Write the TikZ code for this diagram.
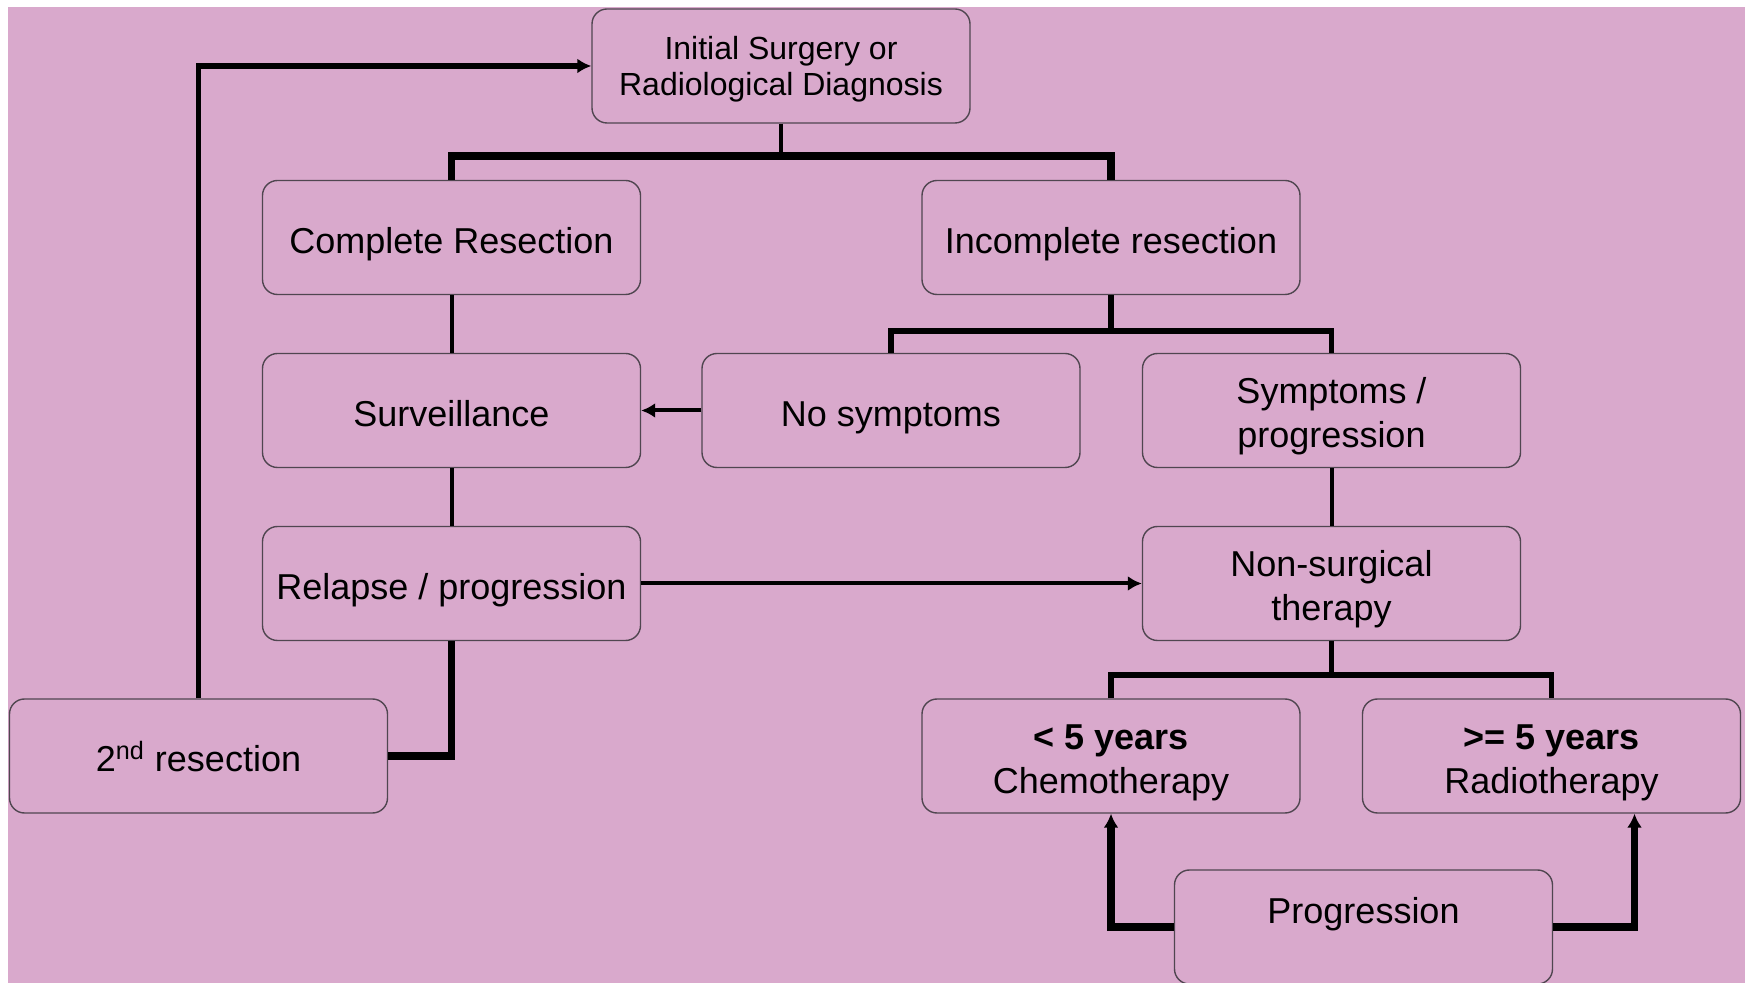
\documentclass[tikz,border=0pt]{standalone}
\usepackage{fontspec}
\setmainfont{Liberation Sans}
\usetikzlibrary{arrows.meta}

\definecolor{panel}{RGB}{217,169,204}
\definecolor{rim}{RGB}{80,70,80}

\begin{document}
\begin{tikzpicture}[x=0.5pt,y=-0.5pt,
  stepbox/.style={draw=rim, line width=0.7pt, fill=panel, rounded corners=7.5pt,
    minimum width=189pt, minimum height=57pt, inner sep=0pt, align=center,
    font=\fontsize{18}{22}\selectfont, text height=19.4pt, text depth=3.8pt},
  twoline/.style={text height=41pt, text depth=3.8pt},
  topbox/.style={stepbox, font=\fontsize{16}{18}\selectfont,
    text height=33pt, text depth=3.4pt},
  lowtext/.style={text height=17pt, text depth=21pt},
  wthin/.style={line width=2pt},
  wmid/.style={line width=2.6pt},
  wthick/.style={line width=3.6pt},
  tip/.style={-{Latex[length=7pt,width=7.5pt]}}
]
% page and coloured panel
\useasboundingbox (0,0) rectangle (1747,983);
\fill[white] (0,0) rectangle (1747,983);
\fill[panel] (8,7) rectangle (1745,983);

% boxes
\node[topbox]  (init)   at (781,66)     {Initial Surgery or\\Radiological Diagnosis};
\node[stepbox] (comp)   at (451.5,237.5) {Complete Resection};
\node[stepbox] (incomp) at (1111,237.5) {Incomplete resection};
\node[stepbox] (surv)   at (451.5,410.5) {Surveillance};
\node[stepbox] (nosym)  at (891,410.5)  {No symptoms};
\node[stepbox,twoline] (sym)  at (1331.5,410.5) {Symptoms /\\progression};
\node[stepbox] (rel)    at (451.5,583.5) {Relapse / progression};
\node[stepbox,twoline] (nons) at (1331.5,583.5) {Non-surgical\\therapy};
\node[stepbox] (sec)    at (198.5,756)  {2\textsuperscript{nd} resection};
\node[stepbox,twoline] (chemo) at (1111,756)   {\textbf{< 5 years}\\Chemotherapy};
\node[stepbox,twoline] (radio) at (1551.5,756) {\textbf{>= 5 years}\\Radiotherapy};
\node[stepbox,lowtext] (prog)  at (1363.5,927) {Progression};

% branch junctions
\coordinate (jtop) at (781,156);
\coordinate (jinc) at (1111,331);
\coordinate (jns)  at (1331.5,675);

% connectors
\draw[wthin]  (init.south) -- (jtop);
\draw[wthick] (comp.north) |- (jtop) -| (incomp.north);
\draw[wthin]  (comp.south) -- (surv.north);
\draw[wthin]  (surv.south) -- (rel.north);
\draw[wmid]   (incomp.south) -- (jinc);
\draw[wmid]   (nosym.north) |- (jinc) -| (sym.north);
\draw[wthin,tip] (nosym.west) -- (surv.east);
\draw[wthin]  (sym.south) -- (nons.north);
\draw[wthin,tip] (rel.east) -- (nons.west);
\draw[wthick] (rel.south) |- (sec.east);
\draw[wmid,tip] (sec.north) |- (init.west);
\draw[wmid]   (nons.south) -- (jns);
\draw[wmid]   (chemo.north) |- (jns) -| (radio.north);
\draw[wthick,tip] (prog.west) -| (chemo.south);
\draw[wthick,tip] (prog.east) -| ([xshift=41.5pt]radio.south);
\end{tikzpicture}
\end{document}
